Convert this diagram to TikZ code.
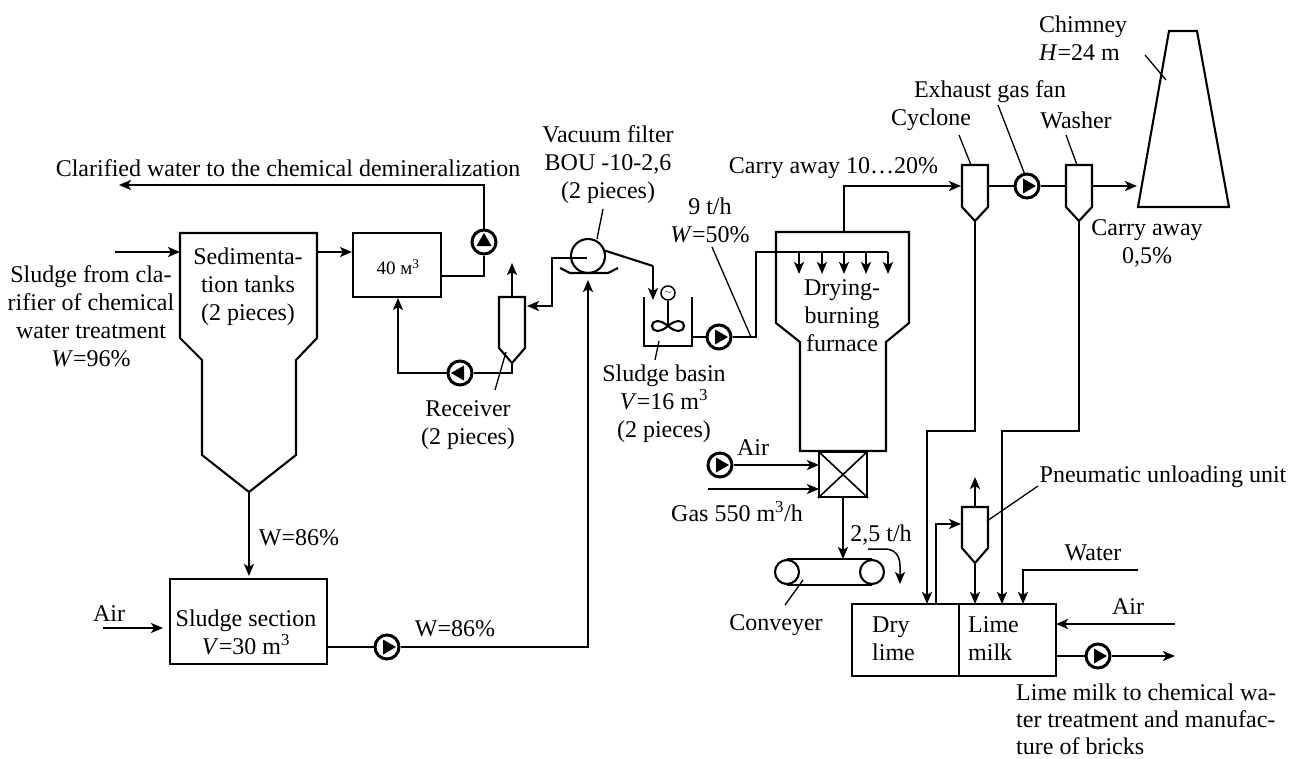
\documentclass[tikz,border=0pt]{standalone}
\usepackage{fontspec}
\setmainfont{Liberation Serif}
\usetikzlibrary{arrows.meta,calc}
\tikzset{
  x=1pt,y=-1pt,
  line/.style={line width=2.1pt,line join=miter},
  flow/.style={line width=2.1pt,-{Stealth[length=12pt,width=10pt,inset=3pt]}},
  leader/.style={line width=1.3pt},
  lbl/.style={inner sep=0pt,align=center,font=\fontsize{24}{28}\selectfont},
  lbll/.style={inner sep=0pt,align=left,font=\fontsize{24}{28}\selectfont},
  pumpc/.style={circle,draw,fill=white,line width=3pt,minimum size=24pt,inner sep=0pt},
  boxn/.style={rectangle,draw,line width=2.1pt,inner sep=0pt},
}
\newcommand{\pumpat}[3]{%
  \node[pumpc] (#1) at (#2) {};
  \fill[shift={(#2)},rotate=#3] (-4,-7.5) -- (-4,7.5) -- (9,0) -- cycle;
}
% hopper: name, cx, top, shoulder, apex
\newcommand{\hopper}[5]{%
  \draw[line] ($(#2-13,#3)$) -- ($(#2+13,#3)$) -- ($(#2+13,#4)$) -- ($(#2,#5)$) -- ($(#2-13,#4)$) -- cycle;
  \coordinate (#1-top) at (#2,#3);
  \coordinate (#1-apex) at (#2,#5);
}
\begin{document}
\begin{tikzpicture}
\useasboundingbox (0,0) rectangle (1290,758);
\fill[white] (0,0) rectangle (1290,758);

% ---- equipment
\draw[line] (180,233) -- (317,233) -- (317,338) -- (296,360) -- (296,455) -- (249,492) -- (202,455) -- (202,360) -- (180,338) -- cycle;
\coordinate (sedin) at (180,252);
\coordinate (sedout) at (317,252);
\coordinate (sedapex) at (249,492);

\node[boxn,minimum width=88pt,minimum height=64pt] (b40) at (397,265) {};
\node[boxn,minimum width=157pt,minimum height=85pt] (sect) at (248.5,621.5) {};
\hopper{recv}{512}{297}{348}{363}
\hopper{cycl}{975}{165}{207}{221}
\hopper{wash}{1079}{165}{207}{221}
\hopper{pneu}{975}{507}{548}{563}

% vacuum filter
\node[circle,draw,line width=2.1pt,minimum size=34pt,inner sep=0pt] (filt) at (588,256) {};
\draw[line] (560,268) -- (570,273) -- (608,273) -- (618,268);
% sludge basin
\draw[line] (644,297) -- (644,346) -- (692,346) -- (692,297);
\node[circle,draw,line width=1.5pt,minimum size=14pt,inner sep=0pt,font=\fontsize{9}{9}\selectfont] (motor) at (668,293) {$\sim$};
\coordinate (stir) at (668,326);
\draw[line] (motor) -- (stir);
\draw[line] (stir) .. controls (660,319) and (652,320) .. (652,326) .. controls (652,332) and (660,333) .. (stir) .. controls (676,319) and (684,320) .. (684,326) .. controls (684,332) and (676,333) .. (stir);
% furnace
\draw[line] (776,232) -- (909,232) -- (909,323) -- (886,342) -- (886,451) -- (800,451) -- (800,342) -- (776,323) -- cycle;
% burner
\node[boxn,minimum width=48pt,minimum height=45pt] (burn) at (843,474.5) {};
\draw[line width=1.6pt] (burn.north west) -- (burn.south east) (burn.north east) -- (burn.south west);
% conveyor
\node[circle,draw,line width=2.1pt,minimum size=24pt,inner sep=0pt] (cv1) at (787,572) {};
\node[circle,draw,line width=2.1pt,minimum size=24pt,inner sep=0pt] (cv2) at (872,572) {};
\draw[line] (cv1.north) -- (cv2.north) (cv1.south) -- (cv2.south);
% lime tank
\node[boxn,minimum width=204pt,minimum height=72pt] (lime) at (954,640) {};
\draw[line] (959,604) -- (959,676);
% chimney
\draw[line] (1169,31) -- (1197,31) -- (1229,207) -- (1138,207) -- cycle;

% ---- pumps
\pumpat{p1}{387,647}{0}
\pumpat{p2}{484,242}{90}
\pumpat{p3}{460,373}{180}
\pumpat{p4}{719,337}{0}
\pumpat{p5}{720,465}{0}
\pumpat{p6}{1027,186}{0}
\pumpat{p7}{1098,656}{0}

% ---- connector ends
\coordinate (sludgein) at (115,252);
\coordinate (clarend) at (119,185);
\coordinate (airsect) at (103,628);
\coordinate (tosect) at (249,576);
\coordinate (tocv) at (843,559);
\coordinate (sectout) at (327,647);
\coordinate (filtin) at (588,280);
\coordinate (feed) at (756,252);
\coordinate (feedend) at (888,252);
\coordinate (chimin) at (1137,186);
\coordinate (furntop) at (844,232);
\coordinate (cyclin) at (961,186);
\coordinate (gasin) at (708,489);

% ---- flows
\draw[flow] (sludgein) -- (sedin);
\draw[flow] (sedout) -- (b40.west |- sedout);
\draw[line] (b40.east |- 0,276) -- (484,276) -- (p2);
\draw[flow] (p2) -- (484,185) -- (clarend);
\draw[flow] (recv-top) -- (512,263);
\draw[line] (recv-apex) -- (512,373) -- (p3);
\draw[flow] (p3) -- (398,373) -- (398,298);
\draw[flow] (587,258) -- (552,258) -- (552,306) -- (527,306);
\draw[line] (603,250) -- (653,266);
\draw[flow] (653,266) -- (653,300);
\draw[flow] (sedapex) -- (tosect);
\draw[flow] (airsect) -- (163,628);
\draw[line] (sectout) -- (p1);
\draw[flow] (p1) -- (588,647) -- (filtin);
\draw[line] (692,337) -- (p4);
\draw[line] (p4) -- (756,337) -- (feed) -- (feedend);
\foreach \dx in {799,822,844,866,888}
  \draw[flow] (\dx,252) -- (\dx,274);
\draw[flow] (furntop) -- (844,186) -- (cyclin);
\draw[line] (988,186) -- (p6) -- (1066,186);
\draw[flow] (1092,186) -- (chimin);
\draw[flow] (p5) -- (819,465);
\draw[flow] (gasin) -- (819,489);
\draw[flow] (burn.south) -- (tocv);
\draw[flow] (cycl-apex) -- (975,431) -- (927,431) -- (927,604);
\draw[flow] (wash-apex) -- (1079,431) -- (1002,431) -- (1002,604);
\draw[flow] (pneu-top) -- (975,477);
\draw[flow] (pneu-apex) -- (975,604);
\draw[flow] (936,604) -- (936,524) -- (961,524);
\draw[flow] (1138,570) -- (1023,570) -- (1023,604);
\draw[flow] (1175,624) -- (1056,624);
\draw[line] (1056,656) -- (p7);
\draw[flow] (p7) -- (1175,656);
\draw[flow,line width=1.5pt] (868,549) -- (885,549) .. controls (895,549) and (900,556) .. (900,566) -- (900,584);

% ---- leaders
\draw[leader] (603,209) -- (597,239);
\draw[leader] (506,352) -- (495,390);
\draw[leader] (659,341) -- (655,360);
\draw[leader] (712,247) -- (751,337);
\draw[leader] (959,135) -- (971,165);
\draw[leader] (998,105) -- (1025,175);
\draw[leader] (1066,135) -- (1077,165);
\draw[leader] (1145,55) -- (1166,80);
\draw[leader] (803,580) -- (785,605);
\draw[leader] (987,521) -- (1038,486);

% ---- labels
\node[lbl] (t1) at (288,168) {Clarified water to the chemical demineralization};
\node[lbl] (t2) at (91,316) {Sludge from cla-\\rifier of chemical\\water treatment\\\textit{W}=96\%};
\node[lbl] (t3) at (248,287) {Sedimenta-\\tion tanks\\(2 pieces)};
\node[lbl,font=\fontsize{19}{19}\selectfont] (t4) at (398,267) {40 м\textsuperscript{3}};
\node[lbl] (t5) at (608,165) {Vacuum filter\\BOU -10-2,6\\(2 pieces)};
\node[lbl] (t6) at (710,220) {9 t/h\\\textit{W}=50\%};
\node[lbl] (t7) at (664,404) {Sludge basin\\\textit{V}=16 m\textsuperscript{3}\\(2 pieces)};
\node[lbl] (t8) at (468,425) {Receiver\\(2 pieces)};
\node[lbl] (t9) at (842,316) {Drying-\\burning\\furnace};
\node[lbl] (t10) at (753,448) {Air};
\node[lbl] (t11) at (737,512) {Gas 550 m\textsuperscript{3}/h};
\node[lbl] (t12) at (881,535) {2,5 t/h};
\node[lbl] (t13) at (776,625) {Conveyer};
\node[lbll,anchor=west] (t14) at (872,639) {Dry\\lime};
\node[lbll,anchor=west] (t15) at (968,639) {Lime\\milk};
\node[lbl] (t16) at (1093,553) {Water};
\node[lbl] (t17) at (1128,607) {Air};
\node[lbl] (t18) at (1163,477) {Pneumatic unloading unit};
\node[lbll,anchor=west,font=\fontsize{24}{27}\selectfont] (t19) at (1016,719) {Lime milk to chemical wa-\\ter treatment and manufac-\\ture of bricks};
\node[lbl] (t20) at (1147,243) {Carry away\\0,5\%};
\node[lbll,anchor=west] (t21) at (1039,38) {Chimney\\\textit{H}=24 m};
\node[lbl] (t22) at (990,92) {Exhaust gas fan};
\node[lbl] (t23) at (931,120) {Cyclone};
\node[lbl] (t24) at (1076,120) {Washer};
\node[lbl] (t25) at (833.5,168) {Carry away 10…20\%};
\node[lbl] (t26) at (299,538) {W=86\%};
\node[lbl] (t27) at (246,632) {Sludge section\\\textit{V}=30 m\textsuperscript{3}};
\node[lbl] (t28) at (109,614) {Air};
\node[lbl] (t29) at (455,629) {W=86\%};
\end{tikzpicture}
\end{document}
